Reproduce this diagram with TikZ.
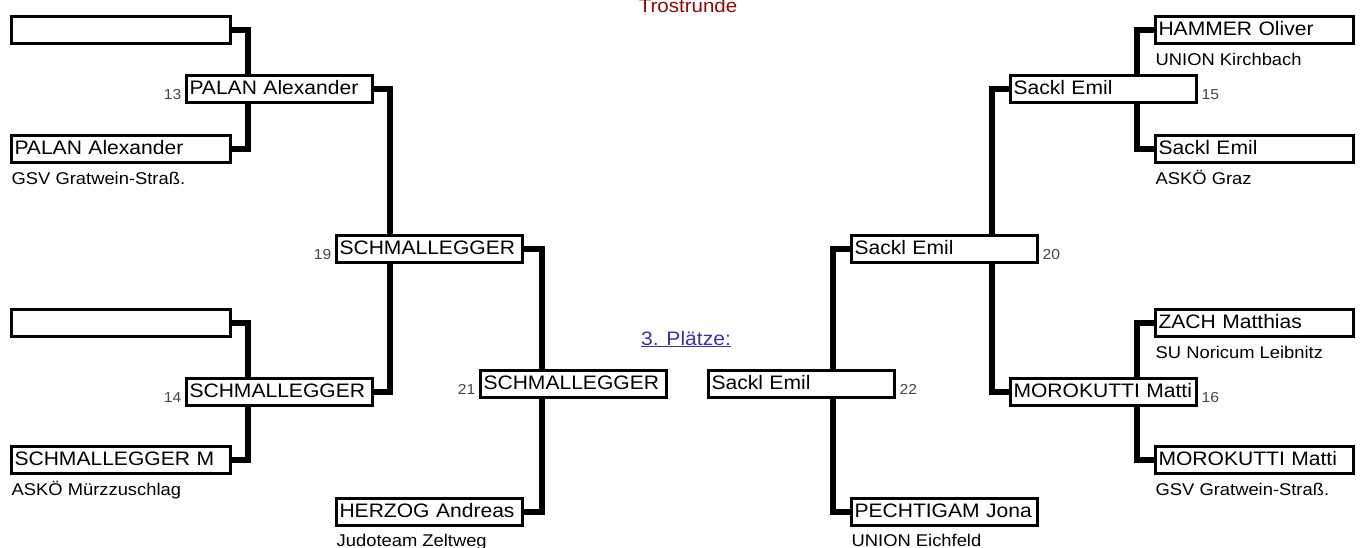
\documentclass[tikz,border=0pt]{standalone}
\usepackage{fontspec}
\setmainfont{Liberation Sans}[FakeStretch=1.08]
\usetikzlibrary{backgrounds}
\definecolor{trost}{RGB}{139,10,10}
\definecolor{plaetze}{RGB}{51,51,170}
\definecolor{numgray}{RGB}{70,70,70}
\tikzset{
 box/.style={draw=black, line width=3pt, fill=white, anchor=north west, minimum height=27pt, inner xsep=3.5pt, inner ysep=0pt, text height=14.5pt, text depth=2pt, align=left, font=\fontsize{19.5}{21}\selectfont},
 wA/.style={text width=212pt},
 wB/.style={text width=179pt},
 wC/.style={text width=191pt},
 conn/.style={line width=6pt, line join=miter},
 club/.style={anchor=base west, inner sep=0pt, font=\fontsize{17}{19}\selectfont},
 num/.style={inner sep=0pt, text=numgray, font=\fontsize{14.5}{15}\selectfont},
}
\begin{document}
\begin{tikzpicture}[x=1pt,y=-1pt]
\useasboundingbox (0,0) rectangle (1363,547);
% titles
\node[anchor=base, inner sep=0pt, text=trost, font=\fontsize{19}{21}\selectfont] (title) at (688,12) {Trostrunde};
\node[anchor=base, inner sep=0pt, text=plaetze, font=\fontsize{19.5}{21}\selectfont] (pl) at (686,345) {\underline{3. Plätze:}};
% left column 1
\node[box,wA] (a1) at (9.5,14.5) {};
\node[box,wA] (a2) at (9.5,133.5) {PALAN Alexander};
\node[box,wA] (a3) at (9.5,307.5) {};
\node[box,wA] (a4) at (9.5,444.5) {\mbox{SCHMALLEGGER M}};
% left column 2
\node[box,wB] (b13) at (184.5,73.5) {\mbox{PALAN Alexander}};
\node[box,wB] (b14) at (184.5,376.5) {SCHMALLEGGER};
% left column 3
\node[box,wB] (b19) at (334.5,233.5) {SCHMALLEGGER};
\node[box,wB] (her) at (334.5,496.5) {\mbox{HERZOG Andreas}};
% center
\node[box,wB] (b21) at (478.5,368.5) {SCHMALLEGGER};
\node[box,wB] (b22) at (706.5,368.5) {Sackl Emil};
% right column 3
\node[box,wB] (b20) at (849.5,233.5) {Sackl Emil};
\node[box,wB] (pec) at (849.5,496.5) {\mbox{PECHTIGAM Jona}};
% right column 2
\node[box,wB] (b15) at (1008.5,73.5) {Sackl Emil};
\node[box,wB] (b16) at (1008.5,376.5) {\mbox{MOROKUTTI Matti}};
% right column 1
\node[box,wC] (r1) at (1153.5,14.5) {HAMMER Oliver};
\node[box,wC] (r2) at (1153.5,133.5) {Sackl Emil};
\node[box,wC] (r3) at (1153.5,307.5) {ZACH Matthias};
\node[box,wC] (r4) at (1153.5,444.5) {\mbox{MOROKUTTI Matti}};
% clubs
\node[club] (ca2) at ([xshift=2pt,yshift=-21pt]a2.south west) {GSV Gratwein-Straß.};
\node[club] (ca4) at ([xshift=2pt,yshift=-21pt]a4.south west) {ASKÖ Mürzzuschlag};
\node[club] (cher) at ([xshift=2pt,yshift=-20pt]her.south west) {Judoteam Zeltweg};
\node[club] (cpec) at ([xshift=2pt,yshift=-20pt]pec.south west) {UNION Eichfeld};
\node[club] (cr1) at ([xshift=2pt,yshift=-20.5pt]r1.south west) {UNION Kirchbach};
\node[club] (cr2) at ([xshift=2pt,yshift=-21pt]r2.south west) {ASKÖ Graz};
\node[club] (cr3) at ([xshift=2pt,yshift=-21pt]r3.south west) {SU Noricum Leibnitz};
\node[club] (cr4) at ([xshift=2pt,yshift=-21pt]r4.south west) {GSV Gratwein-Straß.};
% numbers
\node[num,anchor=base east] (n13) at ([xshift=-3pt,yshift=4pt]b13.south west) {13};
\node[num,anchor=base east] (n14) at ([xshift=-3pt,yshift=4pt]b14.south west) {14};
\node[num,anchor=base east] (n19) at ([xshift=-3pt,yshift=4pt]b19.south west) {19};
\node[num,anchor=base east] (n21) at ([xshift=-3pt,yshift=4pt]b21.south west) {21};
\node[num,anchor=base west] (n22) at ([xshift=4pt,yshift=4pt]b22.south east) {22};
\node[num,anchor=base west] (n20) at ([xshift=4pt,yshift=4pt]b20.south east) {20};
\node[num,anchor=base west] (n15) at ([xshift=4pt,yshift=4pt]b15.south east) {15};
\node[num,anchor=base west] (n16) at ([xshift=4pt,yshift=4pt]b16.south east) {16};
% connectors
\begin{scope}[on background layer]
\fill[white] (0,0) rectangle (1363,547);
\draw[conn] (a1.east) -- ++(16.5,0) |- (a2.east);
\draw[conn] (a3.east) -- ++(16.5,0) |- (a4.east);
\draw[conn] (b13.east) -- ++(16.5,0) |- (b14.east);
\draw[conn] (b19.east) -- ++(18,0) |- (her.east);
\draw[conn] (b20.west) -- ++(-16.5,0) |- (pec.west);
\draw[conn] (b15.west) -- ++(-16.5,0) |- (b16.west);
\draw[conn] (r1.west) -- ++(-16.5,0) |- (r2.west);
\draw[conn] (r3.west) -- ++(-16.5,0) |- (r4.west);
\end{scope}
\end{tikzpicture}
\end{document}
